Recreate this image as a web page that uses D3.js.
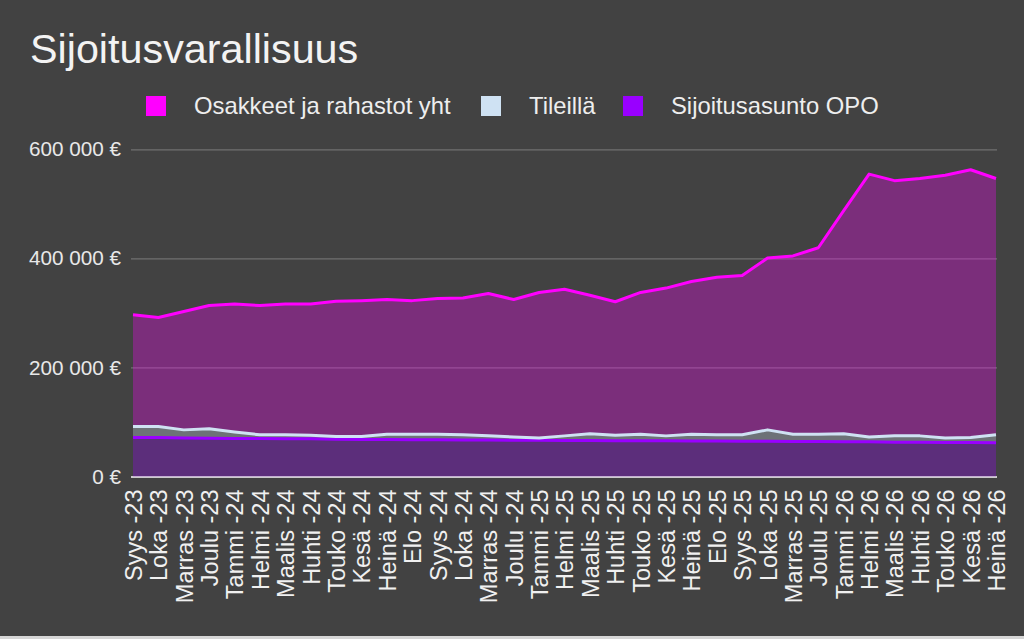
<!DOCTYPE html>
<html>
<head>
<meta charset="utf-8">
<script src="https://cdn.jsdelivr.net/npm/d3@7"></script>
<style>
  html, body { margin: 0; padding: 0; background: #424242; }
  svg { display: block; font-family: Arial, "Liberation Sans", sans-serif; }
</style>
</head>
<body>
<div id="chart"></div>
<script>
// months on the x axis
const months = ["Syys -23", "Loka -23", "Marras -23", "Joulu -23", "Tammi -24", "Helmi -24", "Maalis -24",
  "Huhti -24", "Touko -24", "Kesä -24", "Heinä -24", "Elo -24", "Syys -24", "Loka -24", "Marras -24",
  "Joulu -24", "Tammi -25", "Helmi -25", "Maalis -25", "Huhti -25", "Touko -25", "Kesä -25", "Heinä -25",
  "Elo -25", "Syys -25", "Loka -25", "Marras -25", "Joulu -25", "Tammi -26", "Helmi -26", "Maalis -26",
  "Huhti -26", "Touko -26", "Kesä -26", "Heinä -26"];

// series values (€)
const osakkeet = [205000, 200000, 217000, 226000, 235000, 237000, 240000, 241000, 248000, 249000, 247000,
  245000, 249000, 251000, 261000, 252000, 267000, 269000, 254000, 245000, 260000, 271000, 280000,
  289000, 292000, 315000, 327000, 342000, 409000, 482000, 468000, 472000, 482000, 491000, 470000];
const tileilla = [20000, 20000, 15000, 17500, 12000, 7000, 7500, 6500, 5000, 5500, 9500, 10000, 10000,
  9500, 7500, 6000, 4000, 8500, 12500, 10000, 12000, 9000, 12500, 11500, 12000, 21000, 13500, 13500,
  15000, 9000, 11500, 11500, 8000, 9000, 14500];
const opo = [71500, 71500, 70500, 70000, 69500, 69500, 69000, 69000, 68500, 68000, 68000, 67500, 67500,
  67000, 67000, 66500, 66500, 66000, 66000, 65500, 65500, 65500, 65000, 65000, 64500, 64500, 64000,
  64000, 63500, 63500, 63000, 63000, 62500, 62500, 62000];

const seriesNames = ["Osakkeet ja rahastot yht", "Tileillä", "Sijoitusasunto OPO"];
const yTicks = [0, 200000, 400000, 600000];

const colors = {
  "Osakkeet ja rahastot yht": "#ff00ff",
  "Tileillä": "#cfe2f3",
  "Sijoitusasunto OPO": "#9900ff"
};

const width = 1024, height = 639;
const plot = { left: 133, right: 996, top: 149.3, bottom: 476.5 };

const svg = d3.select("#chart").append("svg")
  .attr("width", width)
  .attr("height", height);

svg.append("rect").attr("width", width).attr("height", height).attr("fill", "#424242");

// table for the stack: one row per month
const rows = months.map((m, i) => ({
  month: m,
  "Sijoitusasunto OPO": opo[i],
  "Tileillä": tileilla[i],
  "Osakkeet ja rahastot yht": osakkeet[i]
}));

// bottom to top
const stack = d3.stack().keys(["Sijoitusasunto OPO", "Tileillä", "Osakkeet ja rahastot yht"]);
const layers = stack(rows);

const x = d3.scalePoint().domain(months).range([plot.left, plot.right]);
const y = d3.scaleLinear().domain([0, 600000]).range([plot.bottom, plot.top]);

const euro = d3.formatLocale({ decimal: ",", thousands: " ", grouping: [3], currency: ["", " €"] });

// title
svg.append("text")
  .attr("x", 30).attr("y", 63)
  .attr("fill", "#f3f3f3")
  .style("font-size", "41.3px")
  .text("Sijoitusvarallisuus");

// legend
const legendX = [146, 481, 623];
const legend = svg.append("g");
seriesNames.forEach((name, i) => {
  legend.append("rect")
    .attr("x", legendX[i]).attr("y", 96)
    .attr("width", 20).attr("height", 20)
    .attr("fill", colors[name]);
  legend.append("text")
    .attr("x", legendX[i] + 48).attr("y", 114)
    .attr("fill", "#eeeeee")
    .style("font-size", "23.8px")
    .text(name);
});

// y axis and gridlines
const yAxis = svg.append("g")
  .attr("transform", `translate(${plot.left - 2},0)`)
  .call(d3.axisLeft(y).tickValues(yTicks).tickSize(-(plot.right - plot.left + 3)).tickPadding(10)
    .tickFormat(d => euro.format("$,.0f")(d)));
yAxis.select(".domain").remove();
yAxis.selectAll(".tick line")
  .attr("stroke", d => d === 0 ? "#cccccc" : "#707070")
  .attr("stroke-width", d => d === 0 ? 2 : 1.2);
yAxis.selectAll(".tick text")
  .attr("fill", "#e8e8e8")
  .style("font-size", "20.7px");

// stacked areas
const area = d3.area()
  .x((d, i) => x(months[i]))
  .y0(d => y(d[0]))
  .y1(d => y(d[1]));

svg.append("g").selectAll("path")
  .data(layers)
  .enter().append("path")
  .attr("d", area)
  .attr("fill", d => colors[d.key])
  .attr("fill-opacity", 0.3);

const line = d3.line()
  .x((d, i) => x(months[i]))
  .y(d => y(d[1]));

svg.append("g").selectAll("path")
  .data(layers)
  .enter().append("path")
  .attr("d", line)
  .attr("fill", "none")
  .attr("stroke", d => colors[d.key])
  .attr("stroke-width", 3)
  .attr("stroke-linejoin", "round");

// x axis labels, rotated
const xAxis = svg.append("g")
  .attr("transform", `translate(0,${plot.bottom})`)
  .call(d3.axisBottom(x).tickSize(0).tickPadding(0));
xAxis.select(".domain").remove();
xAxis.selectAll(".tick text")
  .attr("transform", "rotate(-90)")
  .attr("text-anchor", "end")
  .attr("x", -13)
  .attr("y", 0)
  .attr("dy", "0.36em")
  .attr("fill", "#f0f0f0")
  .style("font-size", "23.5px");

// thin light strip at the bottom edge of the screenshot
svg.append("rect")
  .attr("x", 0).attr("y", 636)
  .attr("width", width).attr("height", 3)
  .attr("fill", "#d6d6d6");
</script>
</body>
</html>
